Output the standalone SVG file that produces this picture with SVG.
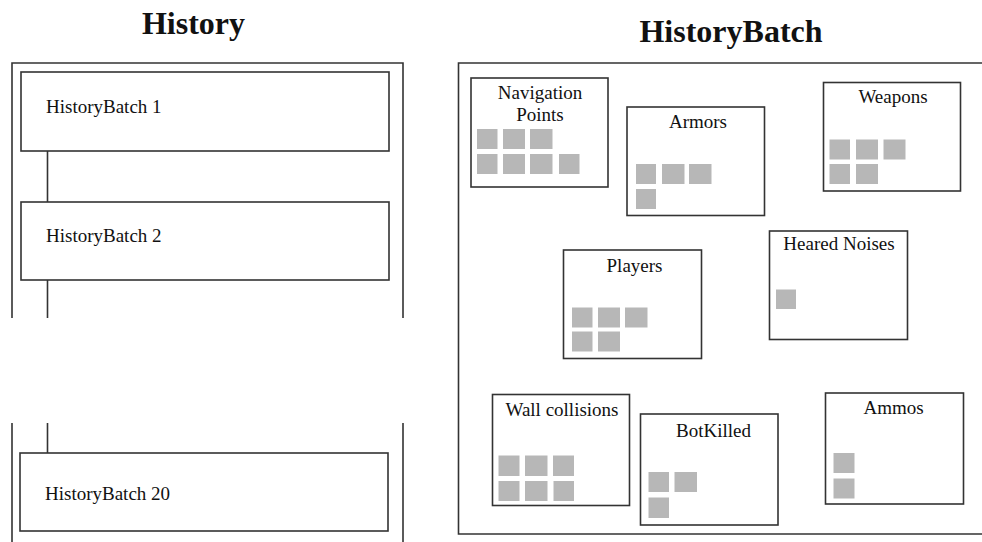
<svg xmlns="http://www.w3.org/2000/svg" width="982" height="542" viewBox="0 0 982 542">
  <style>
    .frame { fill: none; stroke: #333; stroke-width: 1.6; }
    .box { fill: #fff; stroke: #333; stroke-width: 1.6; }
    .link { fill: none; stroke: #333; stroke-width: 1.6; }
    .cell { fill: #b7b7b7; }
    .title { font-family: "Liberation Serif", "Times New Roman", serif; font-weight: bold; font-size: 32px; fill: #111; text-anchor: middle; }
    .label { font-family: "Liberation Serif", "Times New Roman", serif; font-size: 19px; fill: #111; }
    .mid { text-anchor: middle; }
  </style>
  <rect width="982" height="542" fill="#fff"/>

  <!-- History column -->
  <g id="history">
    <text class="title" x="193.5" y="34">History</text>
    <path class="frame" d="M12 318 V63 H403 V318 M12 423 V542 M403 423 V542"/>
  </g>

  <g id="connectors">
    <path class="link" d="M47.5 151 V202 M47.5 280 V318 M47.5 423 V453"/>
  </g>

  <g id="batch1">
    <rect class="box" x="21" y="72" width="368" height="79"/>
    <text class="label" x="46" y="113">HistoryBatch 1</text>
  </g>
  <g id="batch2">
    <rect class="box" x="21" y="202" width="368" height="78"/>
    <text class="label" x="46" y="242">HistoryBatch 2</text>
  </g>
  <g id="batch20">
    <rect class="box" x="20" y="453" width="368" height="78"/>
    <text class="label" x="45" y="500">HistoryBatch 20</text>
  </g>

  <!-- HistoryBatch contents -->
  <g id="historybatch">
    <text class="title" x="731" y="41.5">HistoryBatch</text>
    <path class="frame" d="M982 63 H458.5 V534 H982"/>
  </g>

  <g id="navigation-points">
    <rect class="box" x="471" y="78" width="137" height="109"/>
    <text class="label mid" x="540" y="99">Navigation</text>
    <text class="label mid" x="540" y="121">Points</text>
    <rect class="cell" x="477" y="129" width="20.5" height="20"/>
    <rect class="cell" x="503" y="129" width="22" height="20"/>
    <rect class="cell" x="530" y="129" width="22.5" height="20"/>
    <rect class="cell" x="477" y="154" width="20.5" height="20"/>
    <rect class="cell" x="503" y="154" width="22" height="20"/>
    <rect class="cell" x="530" y="154" width="22.5" height="20"/>
    <rect class="cell" x="559" y="154" width="20.5" height="20"/>
  </g>

  <g id="armors">
    <rect class="box" x="627" y="107" width="137.5" height="108.5"/>
    <text class="label mid" x="698" y="128">Armors</text>
    <rect class="cell" x="636" y="164" width="20" height="20"/>
    <rect class="cell" x="662" y="164" width="22.5" height="20"/>
    <rect class="cell" x="689" y="164" width="22.5" height="20"/>
    <rect class="cell" x="636" y="189" width="20" height="20"/>
  </g>

  <g id="weapons">
    <rect class="box" x="823.5" y="82.5" width="137" height="108.5"/>
    <text class="label mid" x="893" y="103">Weapons</text>
    <rect class="cell" x="829.5" y="139.5" width="20.5" height="20"/>
    <rect class="cell" x="856" y="139.5" width="22" height="20"/>
    <rect class="cell" x="883.5" y="139.5" width="22" height="20"/>
    <rect class="cell" x="829.5" y="164" width="20.5" height="20"/>
    <rect class="cell" x="856" y="164" width="22" height="20"/>
  </g>

  <g id="heared-noises">
    <rect class="box" x="769.5" y="231" width="138" height="108.5"/>
    <text class="label mid" x="839" y="250">Heared Noises</text>
    <rect class="cell" x="776" y="289.5" width="20" height="19.5"/>
  </g>

  <g id="players">
    <rect class="box" x="563.5" y="250" width="138" height="108.5"/>
    <text class="label mid" x="634.5" y="271.5">Players</text>
    <rect class="cell" x="572" y="307.5" width="20.5" height="20"/>
    <rect class="cell" x="598" y="307.5" width="22" height="20"/>
    <rect class="cell" x="625" y="307.5" width="22.5" height="20"/>
    <rect class="cell" x="572" y="331.5" width="20.5" height="20"/>
    <rect class="cell" x="598" y="331.5" width="22" height="20"/>
  </g>

  <g id="wall-collisions">
    <rect class="box" x="492.5" y="394.5" width="137" height="111"/>
    <text class="label mid" x="562" y="415.5">Wall collisions</text>
    <rect class="cell" x="498.5" y="455.5" width="21" height="20.5"/>
    <rect class="cell" x="525" y="455.5" width="22.5" height="20.5"/>
    <rect class="cell" x="553" y="455.5" width="21" height="20.5"/>
    <rect class="cell" x="498.5" y="481" width="21" height="20"/>
    <rect class="cell" x="525" y="481" width="22.5" height="20"/>
    <rect class="cell" x="553.5" y="481" width="20.5" height="20"/>
  </g>

  <g id="botkilled">
    <rect class="box" x="640.5" y="414" width="137.5" height="111"/>
    <text class="label mid" x="713.5" y="436.5">BotKilled</text>
    <rect class="cell" x="648.5" y="472" width="20.5" height="20"/>
    <rect class="cell" x="674.5" y="472" width="22.5" height="20"/>
    <rect class="cell" x="648.5" y="497.5" width="20.5" height="20.5"/>
  </g>

  <g id="ammos">
    <rect class="box" x="825.5" y="393" width="138" height="111"/>
    <text class="label mid" x="893.5" y="413.5">Ammos</text>
    <rect class="cell" x="833.5" y="453" width="21" height="20"/>
    <rect class="cell" x="833.5" y="478.5" width="21" height="20"/>
  </g>
</svg>
